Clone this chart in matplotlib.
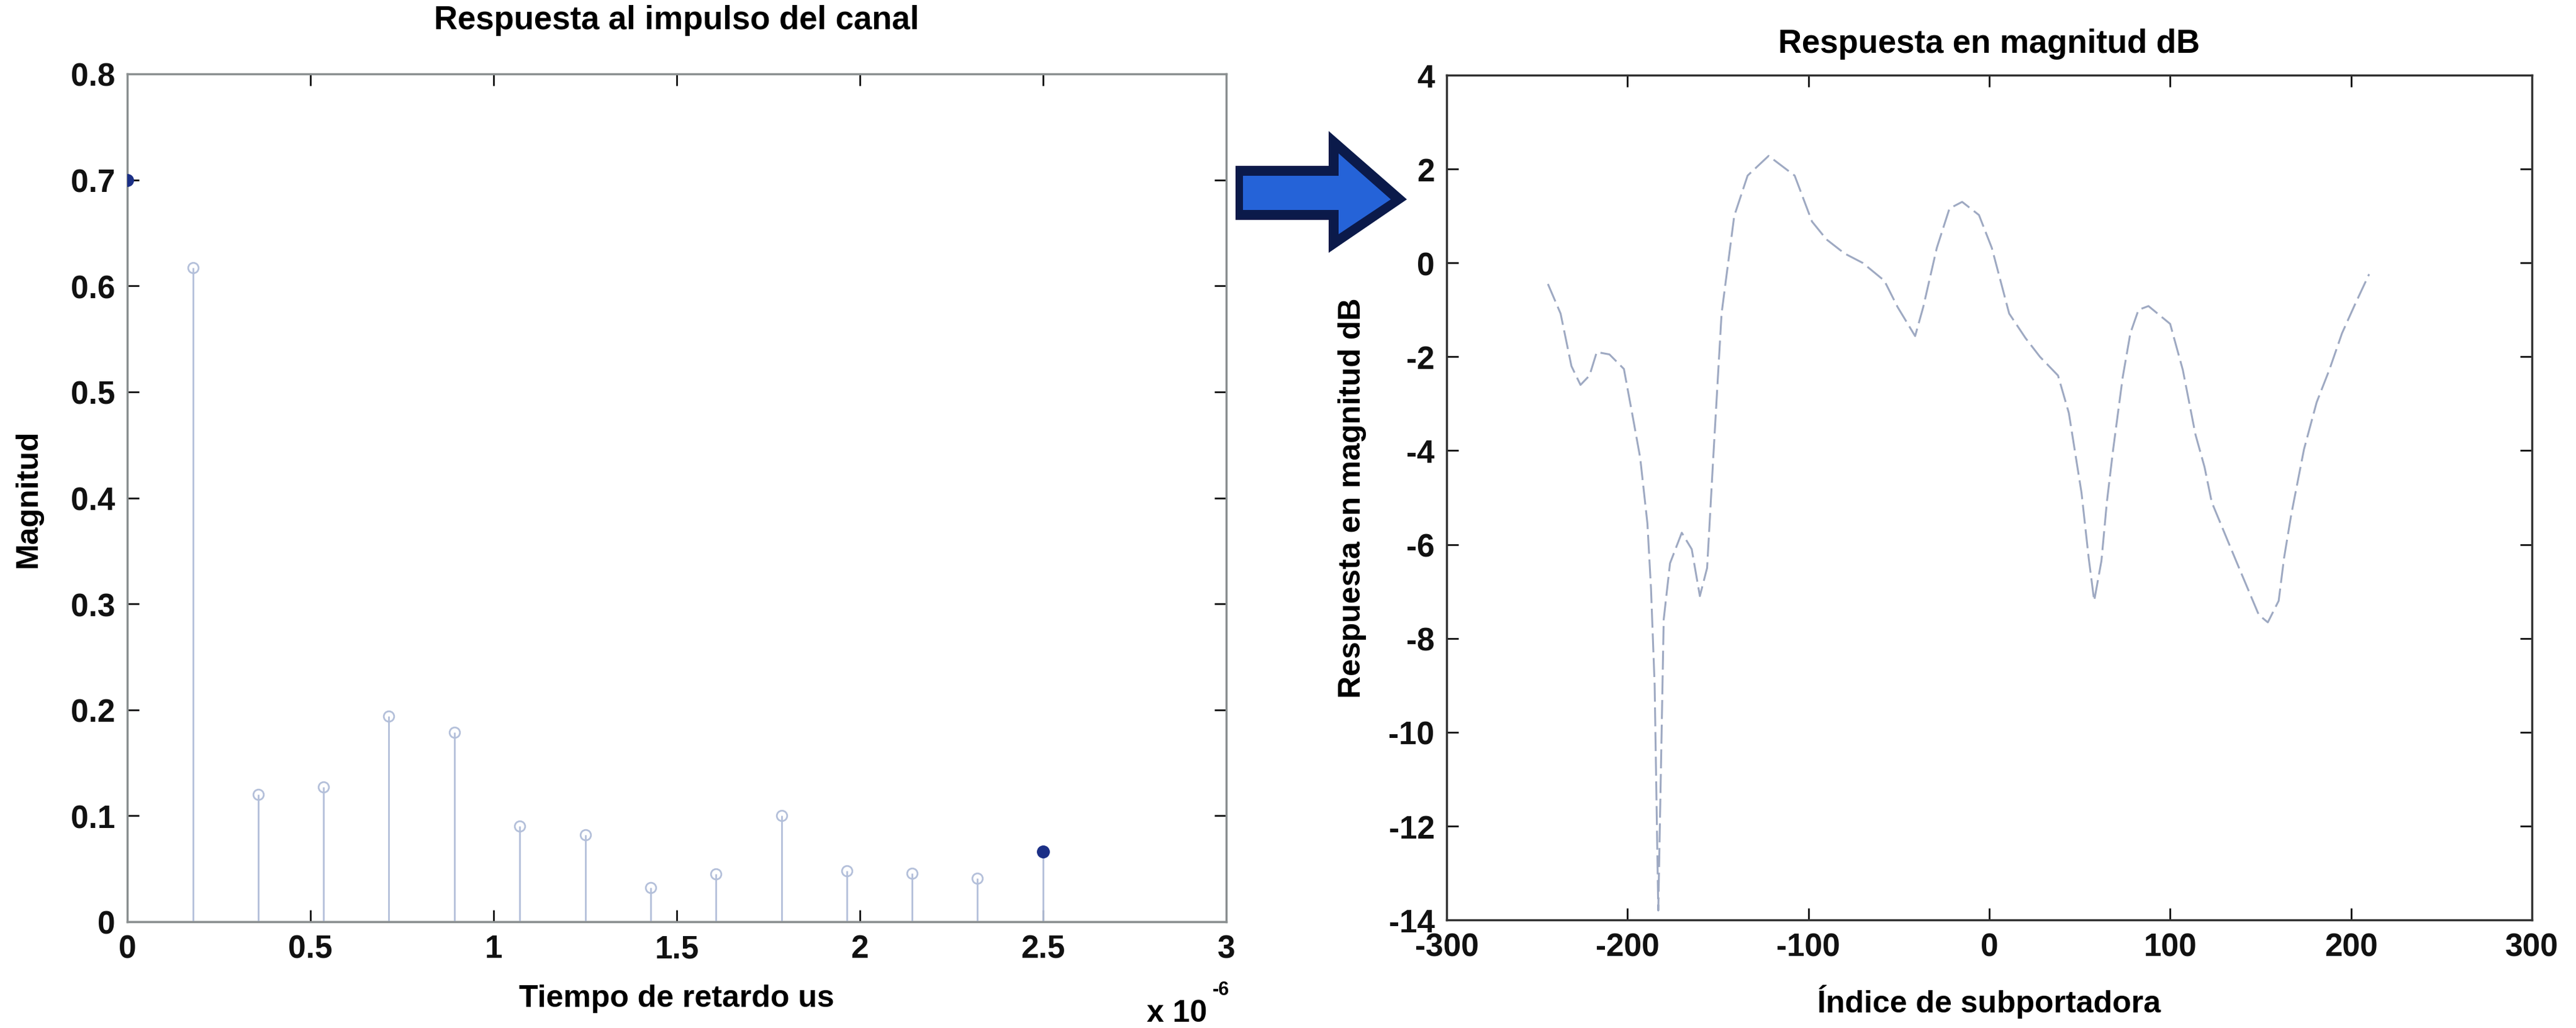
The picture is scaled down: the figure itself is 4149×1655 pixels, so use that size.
import numpy as np
import matplotlib
matplotlib.use('Agg')
import matplotlib.pyplot as plt
from matplotlib.patches import Polygon
from matplotlib.ticker import FuncFormatter, MultipleLocator

# impulse response of the channel (delays in seconds)
delay_s = [0.0, 0.179e-6, 0.357e-6, 0.536e-6, 0.714e-6, 0.893e-6, 1.071e-6, 1.25e-6,
           1.429e-6, 1.607e-6, 1.786e-6, 1.964e-6, 2.143e-6, 2.321e-6, 2.5e-6]
magnitud = [0.70, 0.617, 0.12, 0.127, 0.194, 0.179, 0.09, 0.082,
            0.032, 0.045, 0.10, 0.048, 0.046, 0.041, 0.066]

# magnitude response in dB per subcarrier
subportadora = [-244, -237, -231, -226, -221, -217, -210, -202, -197, -193, -189, -187,
                -185, -183, -181, -180, -176.5, -170, -164.5, -160, -156, -152.6, -148, -141,
                -133.6, -122, -107.6, -98, -90, -80, -70, -58, -50.7, -41, -36.5, -29,
                -22, -15, -5.7, 1.4, 11, 20, 28, 38, 44, 51, 55, 58,
                62, 65, 68.5, 73.8, 78, 82.5, 88, 100, 107, 114, 119, 123,
                137, 149, 154, 160, 163, 167, 174, 181, 188, 195, 202, 210]
respuesta_db = [-0.45, -1.08, -2.2, -2.6, -2.4, -1.9, -1.95, -2.26, -3.3, -4.15, -5.55, -6.95,
                -9.0, -13.8, -9.7, -7.6, -6.4, -5.75, -6.1, -7.1, -6.5, -4.15, -1.08, 1.0,
                1.86, 2.28, 1.86, 0.88, 0.5, 0.2, 0.0, -0.38, -0.94, -1.56, -0.94, 0.32,
                1.16, 1.3, 1.02, 0.32, -1.08, -1.6, -2.0, -2.4, -3.2, -4.9, -6.3, -7.2,
                -6.35, -5.1, -3.97, -2.43, -1.5, -1.0, -0.92, -1.3, -2.28, -3.66, -4.35, -5.1,
                -6.4, -7.5, -7.66, -7.2, -6.28, -5.35, -3.97, -2.97, -2.28, -1.5, -0.9, -0.24]

plt.rcParams['font.family'] = ['Liberation Sans', 'DejaVu Sans']
plt.rcParams['font.weight'] = 'bold'
plt.rcParams['axes.unicode_minus'] = False

W, H = 4149, 1656
fig = plt.figure(figsize=(W / 100, H / 100), dpi=100)

def px_axes(l, t, r, b):
    return fig.add_axes([l / W, 1 - b / H, (r - l) / W, (b - t) / H])

tick_kw = dict(direction='in', length=14, width=2, top=True, right=True,
               labelsize=37, pad=14, colors='#111111')
title_fs = 38
label_fs = 36

# ---- left: impulse response
ax1 = px_axes(205, 120, 1975, 1485)
stem_col = '#b4c0da'
ax1.axhline(0, color='#8a8f90', lw=2.5, zorder=1)
ax1.vlines(delay_s, 0, magnitud, colors=stem_col, lw=2, zorder=2)
ax1.plot(delay_s[1:-1], magnitud[1:-1], 'o', ms=12, mfc='none', mec=stem_col, mew=2, zorder=3)
ax1.plot([delay_s[0], delay_s[-1]], [magnitud[0], magnitud[-1]], 'o', ms=14,
         color='#1b2f86', zorder=4)
ax1.set_xlim(0, 3e-6)
ax1.set_ylim(0, 0.8)
ax1.xaxis.set_major_locator(MultipleLocator(0.5e-6))
ax1.yaxis.set_major_locator(MultipleLocator(0.1))
ax1.xaxis.set_major_formatter(FuncFormatter(lambda v, p: f'{v * 1e6:g}'))
ax1.yaxis.set_major_formatter(FuncFormatter(lambda v, p: f'{v:g}'))
ax1.tick_params(**tick_kw)
for s in ax1.spines.values():
    s.set_color('#8a8f90')
    s.set_linewidth(2.5)
ax1.set_title('Respuesta al impulso del canal', fontsize=title_fs, fontweight='bold',
              y=(1485 - 33) / 1365, va='center', pad=0)
ax1.set_xlabel('Tiempo de retardo us', fontsize=label_fs, fontweight='bold')
ax1.xaxis.set_label_coords(0.5, -0.073)
ax1.set_ylabel('Magnitud', fontsize=label_fs, fontweight='bold')
ax1.yaxis.set_label_coords(-0.077, 0.5)
ax1.text(0.955, -0.108, 'x 10', transform=ax1.transAxes, fontsize=label_fs,
         fontweight='bold', ha='center', va='center')
ax1.text(0.995, -0.080, '-6', transform=ax1.transAxes, fontsize=22,
         fontweight='bold', ha='center', va='center')

# ---- right: magnitude response in dB
ax2 = px_axes(2330, 122, 4078, 1482)
ax2.plot(subportadora, respuesta_db, color='#9ea9c2', lw=2.2, dashes=(10, 3))
ax2.set_xlim(-300, 300)
ax2.set_ylim(-14, 4)
ax2.xaxis.set_major_locator(MultipleLocator(100))
ax2.yaxis.set_major_locator(MultipleLocator(2))
ax2.tick_params(**tick_kw)
for s in ax2.spines.values():
    s.set_color('#333333')
    s.set_linewidth(2.5)
ax2.set_title('Respuesta en magnitud dB', fontsize=title_fs, fontweight='bold',
              y=(1482 - 71) / 1360, va='center', pad=0)
ax2.set_xlabel('Índice de subportadora', fontsize=label_fs, fontweight='bold')
ax2.xaxis.set_label_coords(0.5, -0.076)
ax2.set_ylabel('Respuesta en magnitud dB', fontsize=label_fs, fontweight='bold')
ax2.yaxis.set_label_coords(-0.074, 0.5)

# ---- arrow between the panels
outer = [(1990, 268), (2140, 268), (2140, 212), (2266, 322), (2140, 408),
         (2140, 355), (1990, 355)]
inner = [(2002, 284), (2156, 284), (2156, 248), (2240, 322), (2156, 378),
         (2156, 339), (2002, 339)]
for pts, fc in ((outer, '#0b1a4a'), (inner, '#2563d8')):
    fig.add_artist(Polygon([(x / W, 1 - y / H) for x, y in pts], closed=True,
                           transform=fig.transFigure, facecolor=fc,
                           edgecolor='none'))

fig.savefig('out.png', dpi=100, facecolor='white')
